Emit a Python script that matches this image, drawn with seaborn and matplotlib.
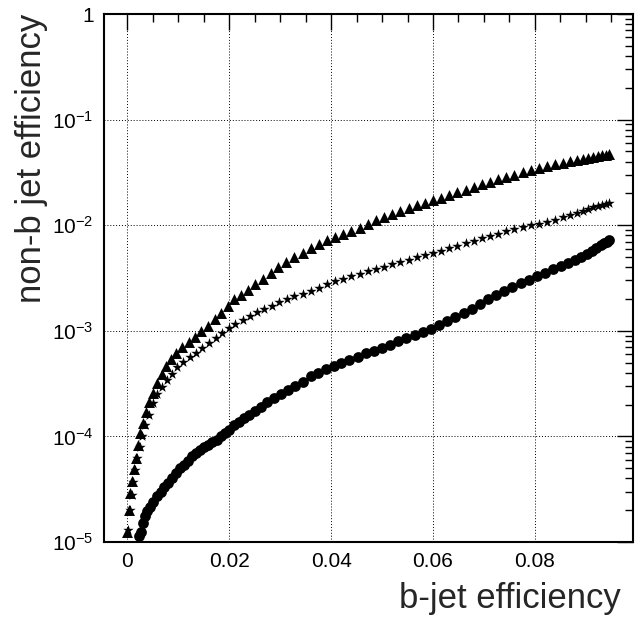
import matplotlib
matplotlib.use("Agg")
import numpy as np
import pandas as pd
import matplotlib.pyplot as plt
import seaborn as sns
from matplotlib.ticker import FixedLocator, FixedFormatter, LogLocator, NullFormatter

# ---------------- data ----------------
tri_x = [0.0000, 0.0003, 0.0006, 0.0009, 0.0012, 0.0016, 0.0020, 0.0025, 0.0030, 0.0036,
         0.0043, 0.0050, 0.0058, 0.0067, 0.0076, 0.0086, 0.0096, 0.0108, 0.0120, 0.0132,
         0.0145, 0.0158, 0.0171, 0.0184, 0.0197, 0.0210, 0.0223, 0.0237, 0.0251, 0.0266,
         0.0281, 0.0296, 0.0312, 0.0328, 0.0344, 0.0360, 0.0376, 0.0392, 0.0408, 0.0424,
         0.0440, 0.0456, 0.0472, 0.0488, 0.0504, 0.0520, 0.0536, 0.0552, 0.0568, 0.0584,
         0.0600, 0.0616, 0.0632, 0.0648, 0.0664, 0.0680, 0.0696, 0.0712, 0.0728, 0.0744,
         0.0760, 0.0776, 0.0792, 0.0808, 0.0824, 0.0840, 0.0855, 0.0869, 0.0882, 0.0894,
         0.0905, 0.0915, 0.0924, 0.0932, 0.0939, 0.0946]
tri_y = [1.25e-5, 2.0e-5, 2.9e-5, 3.8e-5, 4.9e-5, 6.3e-5, 8.2e-5, 1.07e-4, 1.35e-4, 1.7e-4,
         2.1e-4, 2.6e-4, 3.2e-4, 3.9e-4, 4.6e-4, 5.4e-4, 6.1e-4, 7.0e-4, 7.8e-4, 8.8e-4,
         9.9e-4, 1.12e-3, 1.28e-3, 1.46e-3, 1.72e-3, 1.98e-3, 2.2e-3, 2.45e-3, 2.75e-3, 3.1e-3,
         3.55e-3, 4.0e-3, 4.45e-3, 4.95e-3, 5.5e-3, 6.1e-3, 6.6e-3, 7.2e-3, 7.7e-3, 8.2e-3,
         8.8e-3, 9.5e-3, 1.03e-2, 1.11e-2, 1.19e-2, 1.27e-2, 1.36e-2, 1.45e-2, 1.54e-2, 1.63e-2,
         1.72e-2, 1.82e-2, 1.93e-2, 2.05e-2, 2.17e-2, 2.3e-2, 2.44e-2, 2.58e-2, 2.72e-2, 2.87e-2,
         3.02e-2, 3.17e-2, 3.32e-2, 3.47e-2, 3.62e-2, 3.77e-2, 3.91e-2, 4.04e-2, 4.16e-2, 4.27e-2,
         4.37e-2, 4.46e-2, 4.54e-2, 4.61e-2, 4.67e-2, 4.72e-2]

star_x = [0.0002, 0.0005, 0.0008, 0.0011, 0.0015, 0.0019, 0.0024, 0.0029, 0.0035, 0.0042,
          0.0050, 0.0058, 0.0067, 0.0077, 0.0087, 0.0098, 0.0110, 0.0122, 0.0134, 0.0147,
          0.0160, 0.0173, 0.0186, 0.0199, 0.0212, 0.0226, 0.0240, 0.0254, 0.0268, 0.0283,
          0.0298, 0.0313, 0.0328, 0.0344, 0.0360, 0.0376, 0.0392, 0.0408, 0.0424, 0.0440,
          0.0456, 0.0472, 0.0488, 0.0504, 0.0520, 0.0536, 0.0552, 0.0568, 0.0584, 0.0600,
          0.0616, 0.0632, 0.0648, 0.0664, 0.0680, 0.0696, 0.0712, 0.0728, 0.0744, 0.0760,
          0.0776, 0.0792, 0.0808, 0.0824, 0.0840, 0.0855, 0.0869, 0.0882, 0.0894, 0.0905,
          0.0915, 0.0924, 0.0932, 0.0939, 0.0946]
star_y = [1.3e-5, 2.0e-5, 2.8e-5, 3.7e-5, 4.8e-5, 6.2e-5, 8.0e-5, 1.0e-4, 1.28e-4, 1.6e-4,
          2.05e-4, 2.5e-4, 2.95e-4, 3.4e-4, 3.9e-4, 4.5e-4, 5.1e-4, 5.6e-4, 6.2e-4, 6.8e-4,
          7.6e-4, 8.5e-4, 9.5e-4, 1.07e-3, 1.17e-3, 1.27e-3, 1.38e-3, 1.49e-3, 1.6e-3, 1.73e-3,
          1.87e-3, 2.0e-3, 2.12e-3, 2.24e-3, 2.38e-3, 2.55e-3, 2.75e-3, 2.95e-3, 3.12e-3, 3.28e-3,
          3.45e-3, 3.65e-3, 3.85e-3, 4.05e-3, 4.25e-3, 4.45e-3, 4.7e-3, 4.95e-3, 5.2e-3, 5.45e-3,
          5.75e-3, 6.05e-3, 6.4e-3, 6.75e-3, 7.1e-3, 7.5e-3, 7.9e-3, 8.3e-3, 8.75e-3, 9.2e-3,
          9.6e-3, 1.0e-2, 1.03e-2, 1.08e-2, 1.13e-2, 1.19e-2, 1.25e-2, 1.31e-2, 1.37e-2, 1.43e-2,
          1.48e-2, 1.53e-2, 1.57e-2, 1.60e-2, 1.63e-2]

circ_x = [0.0022, 0.0026, 0.0030, 0.0034, 0.0039, 0.0045, 0.0051, 0.0058, 0.0065, 0.0072,
          0.0079, 0.0087, 0.0095, 0.0103, 0.0111, 0.0119, 0.0127, 0.0135, 0.0143, 0.0151,
          0.0159, 0.0167, 0.0175, 0.0183, 0.0191, 0.0199, 0.0209, 0.0219, 0.0229, 0.0239,
          0.0251, 0.0263, 0.0275, 0.0288, 0.0302, 0.0316, 0.0330, 0.0345, 0.0360, 0.0375,
          0.0390, 0.0405, 0.0420, 0.0436, 0.0452, 0.0468, 0.0484, 0.0500, 0.0516, 0.0532,
          0.0548, 0.0564, 0.0580, 0.0596, 0.0612, 0.0628, 0.0644, 0.0660, 0.0676, 0.0692,
          0.0708, 0.0724, 0.0740, 0.0756, 0.0772, 0.0788, 0.0804, 0.0820, 0.0836, 0.0852,
          0.0866, 0.0879, 0.0891, 0.0902, 0.0912, 0.0921, 0.0929, 0.0936, 0.0941, 0.0946]
circ_y = [1.15e-5, 1.25e-5, 1.5e-5, 1.75e-5, 1.95e-5, 2.15e-5, 2.4e-5, 2.7e-5, 3.0e-5, 3.3e-5,
          3.65e-5, 4.0e-5, 4.5e-5, 5.0e-5, 5.4e-5, 5.9e-5, 6.5e-5, 7.0e-5, 7.5e-5, 7.9e-5,
          8.3e-5, 8.8e-5, 9.3e-5, 1.0e-4, 1.08e-4, 1.16e-4, 1.27e-4, 1.37e-4, 1.48e-4, 1.6e-4,
          1.75e-4, 1.9e-4, 2.1e-4, 2.3e-4, 2.52e-4, 2.75e-4, 3.0e-4, 3.3e-4, 3.7e-4, 4.0e-4,
          4.3e-4, 4.6e-4, 4.95e-4, 5.3e-4, 5.7e-4, 6.1e-4, 6.5e-4, 6.9e-4, 7.4e-4, 8.0e-4,
          8.6e-4, 9.2e-4, 9.8e-4, 1.05e-3, 1.13e-3, 1.23e-3, 1.35e-3, 1.48e-3, 1.62e-3, 1.8e-3,
          1.98e-3, 2.18e-3, 2.4e-3, 2.62e-3, 2.85e-3, 3.05e-3, 3.3e-3, 3.55e-3, 3.85e-3, 4.15e-3,
          4.4e-3, 4.65e-3, 4.95e-3, 5.3e-3, 5.7e-3, 6.1e-3, 6.5e-3, 6.8e-3, 7.0e-3, 7.3e-3]

x_ticks = [0, 0.02, 0.04, 0.06, 0.08]
x_tick_labels = ["0", "0.02", "0.04", "0.06", "0.08"]
y_ticks = [1e-5, 1e-4, 1e-3, 1e-2, 1e-1, 1]
y_tick_labels = [r"$10^{-5}$", r"$10^{-4}$", r"$10^{-3}$", r"$10^{-2}$", r"$10^{-1}$", "1"]

# ---------------- style ----------------
sns.set_style("white")
plt.rcParams["font.family"] = ["Liberation Sans", "DejaVu Sans"]
plt.rcParams["mathtext.fontset"] = "custom"
plt.rcParams["mathtext.rm"] = "Liberation Sans"
plt.rcParams["mathtext.it"] = "Liberation Sans:italic"
plt.rcParams["mathtext.bf"] = "Liberation Sans:bold"

fig = plt.figure(figsize=(6.35, 6.17), dpi=100)
ax = fig.add_axes([0.163, 0.1216, 0.834, 0.8557])

tri = pd.DataFrame({"x": tri_x, "y": tri_y})
star = pd.DataFrame({"x": star_x, "y": star_y})
circ = pd.DataFrame({"x": circ_x, "y": circ_y})

sns.scatterplot(data=circ, x="x", y="y", marker="o", color="black", s=60,
                edgecolor="black", linewidth=0, ax=ax, zorder=3)
sns.scatterplot(data=star, x="x", y="y", marker="*", color="black", s=62,
                edgecolor="black", linewidth=0, ax=ax, zorder=3)
sns.scatterplot(data=tri, x="x", y="y", marker="^", color="black", s=62,
                edgecolor="black", linewidth=0, ax=ax, zorder=3)

ax.set_yscale("log")
ax.set_xlim(-0.0047, 0.0993)
ax.set_ylim(1e-5, 1)

ax.xaxis.set_major_locator(FixedLocator(x_ticks))
ax.xaxis.set_major_formatter(FixedFormatter(x_tick_labels))
ax.xaxis.set_minor_locator(FixedLocator([0.005 * i for i in range(1, 20)]))
ax.yaxis.set_major_locator(FixedLocator(y_ticks))
ax.yaxis.set_major_formatter(FixedFormatter(y_tick_labels))
ax.yaxis.set_minor_locator(LogLocator(base=10, subs=np.arange(2, 10)))
ax.yaxis.set_minor_formatter(NullFormatter())

ax.tick_params(which="both", direction="in", top=True, right=True, colors="black",
               labelsize=15)
ax.tick_params(which="major", length=11.5, width=1.0, pad=7)
ax.tick_params(which="minor", length=5.8, width=1.0)

ax.grid(True, which="major", linestyle=(0, (1, 2)), color="black", linewidth=0.7)
ax.set_axisbelow(True)
for sp in ax.spines.values():
    sp.set_visible(True)
    sp.set_color("black")
    sp.set_linewidth(1.5)

ax.set_xlabel("")
ax.set_ylabel("")
fig.text(32 / 635, 1 - 14 / 617, "non-b jet efficiency", rotation=90,
         ha="center", va="top", fontsize=25)
fig.text(621 / 635, 1 - 608 / 617, "b-jet efficiency", ha="right",
         va="baseline", fontsize=25)

fig.savefig("out.png", dpi=100)
